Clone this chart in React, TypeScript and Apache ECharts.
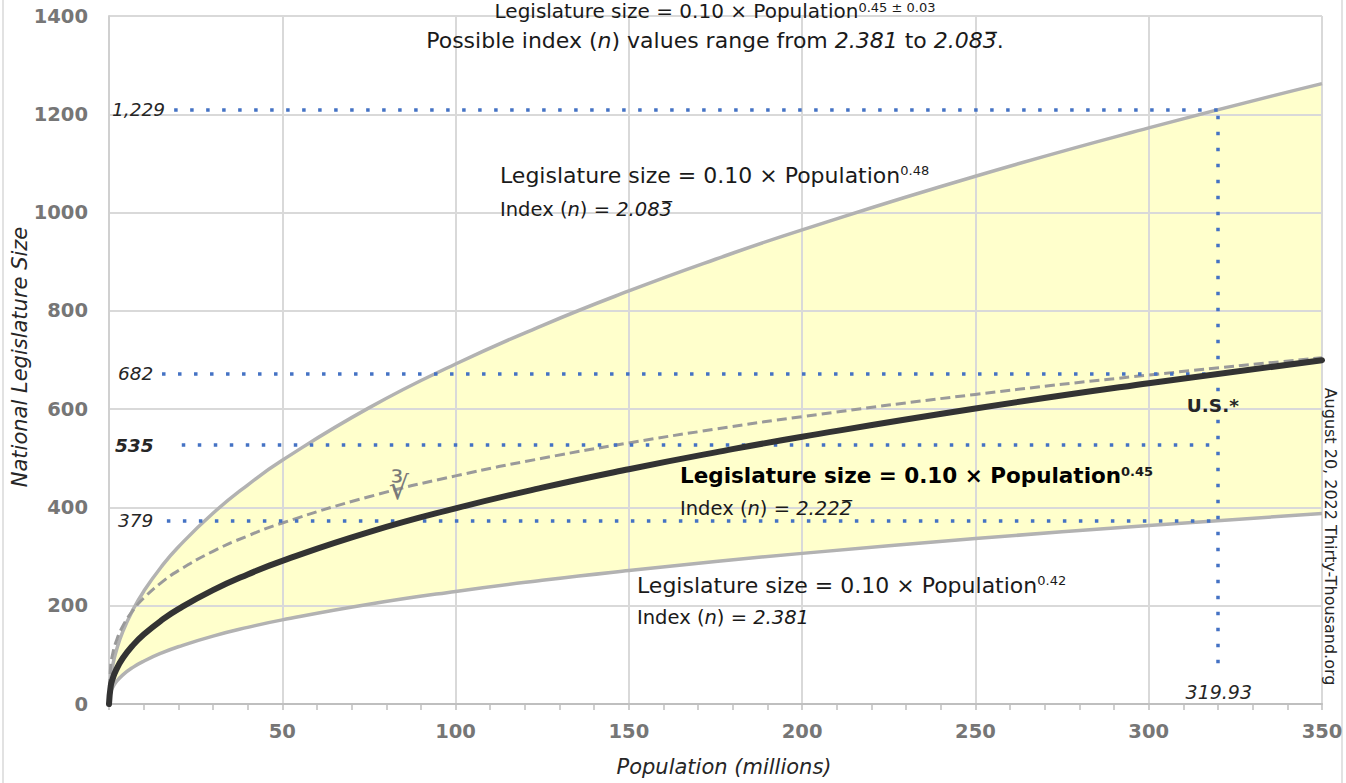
import React, { useEffect, useRef } from 'react';
import * as echarts from 'echarts';

// Population (millions) sample points
const populations = [0, 0.5, 1, 2, 4, 7, 10, 15, 20, 30, 40, 50, 75, 100, 125, 150, 175, 200, 250, 300, 350];
// Legislature size = 0.10 x Population^0.48
const upperSize = [0, 54.4, 75.9, 105.8, 147.6, 193.0, 229.1, 278.3, 319.5, 388.2, 445.6, 496.0, 602.6, 691.8, 770.1, 840.5, 905.0, 964.9, 1074.0, 1172.3, 1262.3];
// Legislature size = 0.10 x Population^0.45
const middleSize = [0, 36.7, 50.1, 68.5, 93.5, 120.3, 141.3, 169.5, 193.0, 231.6, 263.6, 291.4, 349.8, 398.1, 440.2, 477.8, 512.1, 543.8, 601.3, 652.7, 699.6];
// Legislature size = 0.10 x Population^0.42
const lowerSize = [0, 24.7, 33.1, 44.3, 59.3, 75.0, 87.1, 103.3, 116.5, 138.2, 155.9, 171.2, 203.0, 229.1, 251.6, 271.6, 289.8, 306.5, 336.6, 363.4, 387.7];
// Cube root rule
const cubeRootSize = [0, 79.4, 100, 126.0, 158.7, 191.3, 215.4, 246.6, 271.4, 310.7, 342.0, 368.4, 421.7, 464.2, 500.0, 531.3, 559.3, 584.8, 630.0, 669.4, 704.7];

// Reference (dotted) lines
const refLineLabels = ['1,229', '682', '535', '379'];
const refLineValues = [1209, 672, 527, 373];
const refLineStarts = [18.8, 15.3, 21.0, 16.7];
const usPopulation = 319.93;
const usLineRange = [83, 1209];

const FONT = '"DejaVu Sans", Verdana, sans-serif';
const TEXT = '#1a1a1a';

export default function App() {
  const ref = useRef<HTMLDivElement>(null);
  useEffect(() => {
    document.body.style.margin = '0';
    const chart = echarts.init(ref.current!, null, { renderer: 'svg' });
    const pts = (ys: number[]) => populations.map((x, i) => [x, ys[i]]);
    const refLines: any[] = refLineValues.map((v, i) => [
      { coord: [refLineStarts[i], v] },
      { coord: [usPopulation, v] },
    ]);
    refLines.push([{ coord: [usPopulation, usLineRange[0]] }, { coord: [usPopulation, usLineRange[1]] }]);

    const curve = (data: number[][], lineStyle: any, z: number, extra: any = {}) => ({
      type: 'line', data, symbol: 'none', showSymbol: false, smooth: 0.5,
      lineStyle, z, silent: true, ...extra,
    });

    chart.setOption({
      animation: false,
      backgroundColor: '#ffffff',
      grid: { left: 109, right: 24, top: 16, bottom: 79, containLabel: false },
      xAxis: {
        type: 'value', min: 0, max: 350, interval: 50,
        axisLine: { show: true, onZero: false, lineStyle: { color: '#BFBFBF', width: 2 } },
        axisTick: { show: true, length: 6, lineStyle: { color: '#BFBFBF', width: 1.5 } },
        minorTick: { show: true, splitNumber: 5, length: 6, lineStyle: { color: '#BFBFBF', width: 1.5 } },
        splitLine: { show: true, lineStyle: { color: '#D9D9D9', width: 2 } },
        axisLabel: {
          color: '#767676', fontWeight: 'bold', fontSize: 19.5, fontFamily: FONT, margin: 17,
          formatter: (v: number) => (v === 0 ? '' : String(v)),
        },
      },
      yAxis: {
        type: 'value', min: 0, max: 1400, interval: 200,
        axisLine: { show: true, lineStyle: { color: '#D0D0D0', width: 2 } },
        axisTick: { show: false },
        splitLine: { show: true, lineStyle: { color: '#D9D9D9', width: 2 } },
        axisLabel: {
          color: '#767676', fontWeight: 'bold', fontSize: 19.5, fontFamily: FONT, margin: 21,
          formatter: (v: number) => String(v),
        },
      },
      series: [
        // band fill: yellow under the upper curve, white under the lower curve (beneath the grid lines)
        curve(pts(upperSize), { opacity: 0 }, -2, { areaStyle: { color: '#FFFFCC', opacity: 1 } }),
        curve(pts(lowerSize), { opacity: 0 }, -1, { areaStyle: { color: '#FFFFFF', opacity: 1 } }),
        curve(pts(upperSize), { color: '#B2B2B2', width: 3.5 }, 3),
        curve(pts(lowerSize), { color: '#B2B2B2', width: 3.5 }, 3),
        curve(pts(cubeRootSize), { color: '#9A9A9A', width: 3, type: [10, 5] }, 4),
        curve(pts(middleSize), { color: '#333333', width: 6, cap: 'round' }, 5),
        {
          type: 'line', data: [[usPopulation, usLineRange[1]]], symbol: 'none', showSymbol: false,
          lineStyle: { opacity: 0 }, silent: true, z: 6,
          markLine: {
            silent: true, symbol: ['none', 'none'], label: { show: false }, animation: false,
            lineStyle: { color: '#4472C4', width: 3.5, type: [3.5, 12.5], cap: 'butt' },
            emphasis: { disabled: true },
            data: refLines,
          },
        },
      ],
    });

    const txt = (x: number, y: number, text: string, style: any = {}, extra: any = {}) => ({
      type: 'text', x, y, silent: true, z: 100,
      style: { text, fill: TEXT, fontFamily: FONT, fontSize: 22, align: 'left', verticalAlign: 'middle', ...style },
      ...extra,
    });
    const supRich = (size: number, weight = 'normal') => ({
      sup: { fontSize: size, fontWeight: weight, fontFamily: FONT, fill: TEXT, verticalAlign: 'top', lineHeight: 17 },
    });
    const idxRich = (size: number) => ({ i: { fontStyle: 'italic', fontSize: size, fontFamily: FONT, fill: TEXT } });

    const labelX = [112, 118, 115, 118];
    const refLabelEls = refLineLabels.map((lab, i) => {
      const p = chart.convertToPixel({ gridIndex: 0 }, [0, refLineValues[i]]) as number[];
      return txt(labelX[i], p[1], lab, {
        fontStyle: 'italic', fontSize: 18.5, fill: '#262626', fontWeight: i === 2 ? 'bold' : 'normal',
      });
    });
    const usPix = chart.convertToPixel({ gridIndex: 0 }, [usPopulation, 0]) as number[];

    chart.setOption({
      graphic: [
        { type: 'line', silent: true, shape: { x1: 3, y1: 0, x2: 3, y2: 783 }, style: { stroke: '#D9D9D9', lineWidth: 1.5 } },
        { type: 'line', silent: true, shape: { x1: 1342, y1: 0, x2: 1342, y2: 783 }, style: { stroke: '#D9D9D9', lineWidth: 1.5 } },
        txt(715, 11, 'Legislature size = 0.10 × Population{sup|0.45 ± 0.03}', { align: 'center', fontSize: 20, rich: supRich(13) }),
        txt(715, 40, 'Possible index ({i|n}) values range from {i|2.381} to {i|2.083\u0305}.', { align: 'center', rich: idxRich(22) }),
        txt(500, 175, 'Legislature size = 0.10 × Population{sup|0.48}', { rich: supRich(13) }),
        txt(500, 209, 'Index ({i|n}) = {i|2.083\u0305}', { fontSize: 19.5, rich: idxRich(19.5) }),
        txt(680, 475.5, 'Legislature size = 0.10 × Population{sup|0.45}', { fontWeight: 'bold', fontSize: 21.5, fill: '#000', rich: supRich(13, 'bold') }),
        txt(680, 508, 'Index ({i|n}) = {i|2.222\u0305}', { fontSize: 19.5, rich: idxRich(19.5) }),
        txt(637, 585, 'Legislature size = 0.10 × Population{sup|0.42}', { rich: supRich(13) }),
        txt(637, 617, 'Index ({i|n}) = {i|2.381}', { fontSize: 19.5, rich: idxRich(19.5) }),
        txt(usPix[0] - 5, 405, 'U.S.*', { align: 'center', fontWeight: 'bold', fontSize: 18.5, fill: '#262626' }),
        txt(usPix[0] + 1, 691.5, '319.93', { align: 'center', fontStyle: 'italic', fontSize: 19, fill: '#262626' }),
        ...refLabelEls,
        txt(1330, 536.5, 'August 20, 2022 Thirty-Thousand.org', { align: 'center', fontSize: 16, fill: '#262626' }, { rotation: -Math.PI / 2 }),
        txt(399, 488, '∛', { align: 'center', fontSize: 32, fill: '#7A7A7A' }),
        txt(724, 767, 'Population (millions)', { align: 'center', fontStyle: 'italic', fontSize: 21, fill: '#262626' }),
        txt(20, 357, 'National Legislature Size', { align: 'center', fontStyle: 'italic', fontSize: 21, fill: '#262626' }, { rotation: Math.PI / 2 }),
      ],
    });

    return () => chart.dispose();
  }, []);
  return <div ref={ref} style={{ width: 1346, height: 783 }} />;
}
